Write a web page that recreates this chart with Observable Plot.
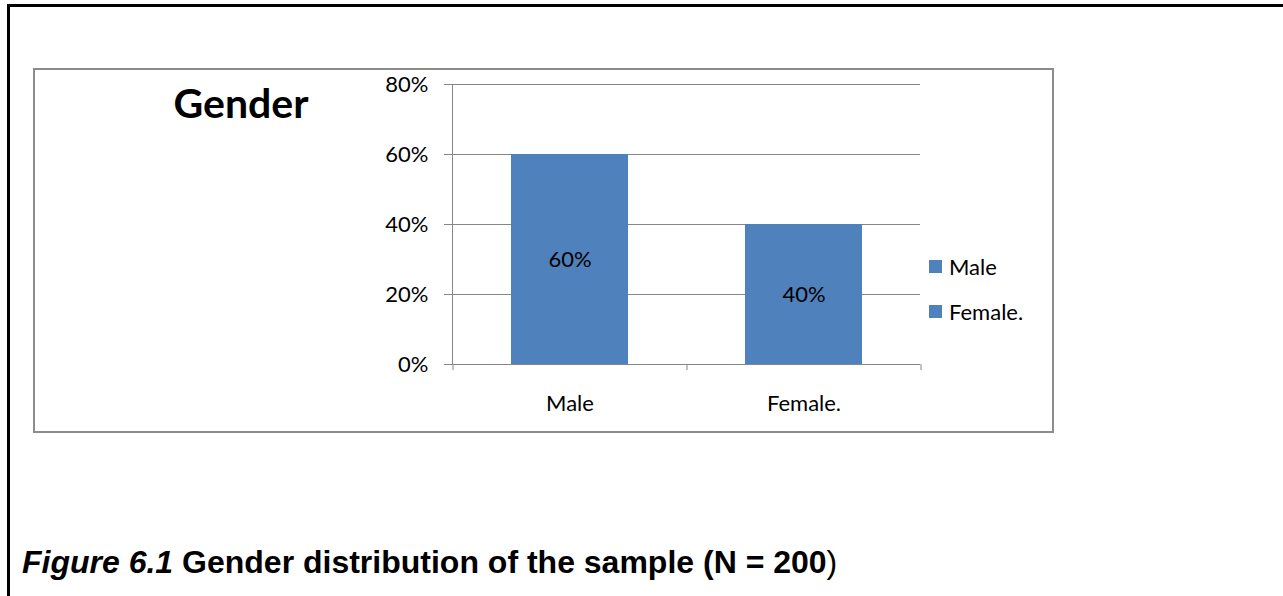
<!DOCTYPE html>
<html>
<head>
<meta charset="utf-8">
<script src="https://cdn.jsdelivr.net/npm/d3@7"></script>
<script src="https://cdn.jsdelivr.net/npm/@observablehq/plot@0.6"></script>
<style>
html, body { margin: 0; padding: 0; background: #fff; }
#page { position: relative; width: 1283px; height: 596px; overflow: hidden; font-family: Lato, sans-serif; }
#outer { position: absolute; left: 7px; top: 4px; width: 1400px; height: 800px; border-left: 3px solid #000; border-top: 3px solid #000; }
#box { position: absolute; left: 33px; top: 68px; width: 1017px; height: 361px; border: 2px solid #8c8c8c; }
#chart { position: absolute; left: 0; top: 0; }
#title { position: absolute; left: 141px; width: 200px; top: 82px; text-align: center; font-family: Lato, sans-serif; font-weight: 700; font-size: 41px; line-height: 1; color: #000; }
#legend { position: absolute; left: 929px; top: 244px; }
.row { display: flex; align-items: center; height: 45px; }
.sw { width: 13px; height: 13px; }
.lab { margin-left: 7px; font-family: Lato, sans-serif; font-size: 22px; line-height: 1; color: #000; }
#caption { position: absolute; left: 22px; top: 546px; white-space: nowrap; font-family: "Liberation Sans", Arial, sans-serif; font-weight: 700; font-size: 32px; line-height: 1; color: #000; }
#caption .fig { font-style: italic; }
#caption .reg { font-weight: 400; }
</style>
</head>
<body>
<div id="page">
  <div id="outer"></div>
  <div id="box"></div>
  <div id="chart"></div>
  <div id="title"></div>
  <div id="legend"></div>
  <div id="caption"></div>
</div>
<script>
// ---- data ----
const categories = ["Male", "Female."];
const shares = [0.60, 0.40];
const yTicks = [0, 0.2, 0.4, 0.6, 0.8];
const titleText = "Gender";
const captionFig = "Figure 6.1";
const captionText = " Gender distribution of the sample (N = 200";
const captionEnd = ")";
const barColor = "#4F81BD";

const data = categories.map((c, i) => ({category: c, share: shares[i]}));
const pct = d3.format(".0%");

const W = 1283, H = 596;
const mL = 452, mR = 363, mT = 84, mB = 232;
const step = (W - mL - mR) / categories.length;
const gray = "#868686";

const chart = Plot.plot({
  width: W,
  height: H,
  marginLeft: mL,
  marginRight: mR,
  marginTop: mT,
  marginBottom: mB,
  style: {fontFamily: "Lato, sans-serif", fontSize: "22px", background: "transparent", color: "#000", overflow: "visible"},
  x: {domain: categories, paddingInner: 0.5, paddingOuter: 0.25, label: null},
  y: {domain: [0, 0.8], label: null},
  marks: [
    Plot.gridY(yTicks, {stroke: gray, strokeOpacity: 1}),
    Plot.barY(data, {x: "category", y: "share", fill: barColor}),
    Plot.ruleY([0], {stroke: gray}),
    Plot.frame({anchor: "left", stroke: gray}),
    Plot.axisY(yTicks, {tickFormat: pct, tickSize: 8, tickPadding: 16, stroke: gray, fill: "#000", label: null}),
    Plot.axisX({tickSize: 0, tickPadding: 31, fill: "#000", label: null}),
    Plot.ruleX(categories, {x: d => d, dx: -step / 2, y1: 0, y2: 0, insetBottom: -6, stroke: gray}),
    Plot.ruleX(categories.slice(-1), {x: d => d, dx: step / 2, y1: 0, y2: 0, insetBottom: -6, stroke: gray}),
    Plot.text(data, {x: "category", y: d => d.share / 2, text: d => pct(d.share), fill: "#000"})
  ]
});
document.getElementById("chart").appendChild(chart);

document.getElementById("title").textContent = titleText;

const legend = document.getElementById("legend");
categories.forEach(c => {
  const row = document.createElement("div");
  row.className = "row";
  const sw = document.createElement("div");
  sw.className = "sw";
  sw.style.background = barColor;
  const lab = document.createElement("div");
  lab.className = "lab";
  lab.textContent = c;
  row.appendChild(sw);
  row.appendChild(lab);
  legend.appendChild(row);
});

const cap = document.getElementById("caption");
const f = document.createElement("span"); f.className = "fig"; f.textContent = captionFig;
const t = document.createElement("span"); t.textContent = captionText;
const e = document.createElement("span"); e.className = "reg"; e.textContent = captionEnd;
cap.appendChild(f); cap.appendChild(t); cap.appendChild(e);
</script>
</body>
</html>
